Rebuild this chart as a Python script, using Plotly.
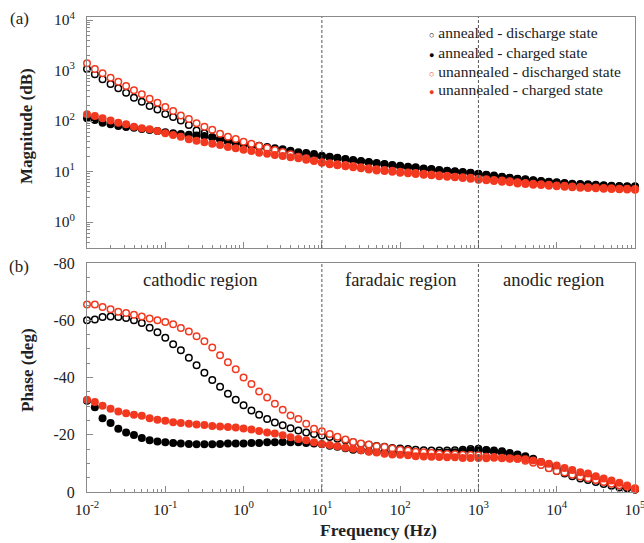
import plotly.graph_objects as go

# ---------------- data ----------------
freq = [0.01, 0.0126, 0.0158, 0.02, 0.0251, 0.0316, 0.0398, 0.0501, 0.0631, 0.0794,
        0.1, 0.126, 0.158, 0.2, 0.251, 0.316, 0.398, 0.501, 0.631, 0.794,
        1, 1.26, 1.58, 2, 2.51, 3.16, 3.98, 5.01, 6.31, 7.94,
        10, 12.6, 15.8, 20, 25.1, 31.6, 39.8, 50.1, 63.1, 79.4,
        100, 126, 158, 200, 251, 316, 398, 501, 631, 794,
        1000, 1260, 1580, 2000, 2510, 3160, 3980, 5010, 6310, 7940,
        10000, 12600, 15800, 20000, 25100, 31600, 39800, 50100, 63100, 79400,
        100000]

series_names = ["annealed - discharge state", "annealed - charged state",
                "unannealed - discharged state", "unannealed - charged state"]

mag_ann_dis = [1072, 840, 668, 541, 444, 364, 290, 242, 198, 170,
               138, 120, 102, 83, 65, 57, 47.5, 43.4, 39, 36.1,
               34.5, 32.5, 30.6, 28.8, 27.1, 25.5, 24.0, 22.5, 21.2, 20.0,
               19.8, 19.0, 18.2, 17.2, 16.4, 15.7, 15.0, 14.3, 13.7, 13.1,
               12.6, 12.1, 11.7, 11.2, 10.9, 10.5, 10.2, 9.9, 9.6, 9.3,
               8.9, 8.5, 8.1, 7.8, 7.4, 7.1, 6.9, 6.6, 6.4, 6.2,
               6.0, 5.8, 5.6, 5.5, 5.4, 5.3, 5.2, 5.1, 5.05, 5.0,
               4.95]
mag_ann_chg = [113, 105, 92.7, 86, 79.6, 76, 73.8, 69.5, 66.4, 63.4,
               59.7, 57, 55.3, 53.5, 51.8, 50.4, 47.5, 44, 40.2, 37.8,
               35.6, 33.5, 32.5, 30.6, 28.8, 27.5, 25.9, 24, 23.2, 22.2,
               20.6, 19.7, 18.8, 17.7, 16.9, 16.1, 15.4, 14.7, 14.1, 13.5,
               13.0, 12.4, 12.1, 11.5, 11.2, 10.7, 10.4, 10.1, 9.8, 9.5,
               9.0, 8.6, 8.3, 7.9, 7.5, 7.2, 7.0, 6.7, 6.5, 6.3,
               6.1, 5.9, 5.7, 5.65, 5.57, 5.48, 5.33, 5.25, 5.17, 5.13,
               5.09]
mag_unann_dis = [1387, 1072, 879, 721, 601, 493, 405, 337, 277, 231,
                 189, 158, 129, 110, 90, 77, 67, 56, 49, 44,
                 39, 35.6, 32, 29.2, 26.7, 24.3, 21.9, 19.7, 18.2, 16.6,
                 15.2, 14.6, 14.0, 13.4, 12.8, 12.2, 11.6, 11.1, 10.7, 10.3,
                 9.9, 9.6, 9.3, 9.0, 8.7, 8.4, 8.2, 7.9, 7.7, 7.5,
                 7.2, 7.0, 6.8, 6.6, 6.4, 6.1, 5.9, 5.75, 5.6, 5.45,
                 5.3, 5.2, 5.05, 4.95, 4.88, 4.8, 4.72, 4.65, 4.58, 4.55,
                 4.5]
mag_unann_chg = [136, 126, 113, 102, 92.7, 86, 77.3, 71.6, 68.4, 63.4,
                 57, 52.8, 49, 43.4, 40.8, 37.8, 35.6, 33.5, 30.6, 28.8,
                 27.1, 25.5, 23.6, 22.5, 21.2, 20.3, 19.1, 18.2, 17.1, 16.1,
                 14.9, 13.9, 13.3, 12.7, 12.1, 11.6, 11.0, 10.5, 10.2, 9.9,
                 9.5, 9.2, 8.9, 8.6, 8.4, 8.1, 7.9, 7.7, 7.4, 7.2,
                 6.9, 6.7, 6.5, 6.3, 6.1, 5.8, 5.65, 5.48, 5.4, 5.25,
                 5.09, 5.0, 4.86, 4.79, 4.71, 4.64, 4.57, 4.5, 4.43, 4.40,
                 4.36]

ph_ann_dis = [-60, -60.3, -61.1, -61.3, -61.1, -60.8, -60, -59, -57.4, -55.8,
              -53.9, -51.6, -49.5, -46.9, -44.3, -41.7, -39.1, -36.8, -34.3, -32.2,
              -30.3, -28.5, -27, -25.5, -24.3, -23.3, -22.3, -21.5, -20.8, -20.3,
              -19.7, -19.2, -18.6, -18.1, -17.4, -16.8, -16.5, -16.1, -15.8, -15.4,
              -15.2, -15.0, -14.8, -14.6, -14.5, -14.5, -14.5, -14.6, -14.8, -15.0,
              -15.1, -14.6, -14.1, -13.7, -13.1, -12.5, -11.8, -10.7, -9.6, -8.4,
              -7.3, -6.5, -5.5, -4.7, -4.2, -3.5, -2.8, -2.2, -1.6, -1.3,
              -0.9]
ph_ann_chg = [-31.9, -29.6, -25.8, -24.1, -22.1, -20.8, -19.9, -18.9, -18.1, -17.6,
              -17.4, -17.1, -16.9, -16.8, -16.7, -16.7, -16.7, -16.8, -16.9, -16.9,
              -16.9, -17.1, -17.1, -17.4, -17.4, -17.5, -17.4, -17.4, -17.1, -16.9,
              -16.7, -16.2, -15.8, -15.3, -14.8, -14.6, -14.2, -14.0, -13.9, -13.7,
              -13.5, -13.4, -13.4, -13.4, -13.5, -13.7, -13.8, -13.9, -14.3, -14.5,
              -14.6, -14.7, -14.5, -14.2, -13.6, -13.1, -12.5, -11.6, -10.5, -9.4,
              -8.2, -7.5, -6.7, -5.8, -5.2, -4.4, -3.7, -3.1, -2.3, -1.5,
              -0.9]
ph_unann_dis = [-65.5, -65.5, -64.6, -63.8, -63, -62.5, -61.9, -61.3, -60.6, -60,
                -59.4, -58.6, -57.3, -56.1, -54.4, -52.7, -50.5, -47.8, -45.3, -42.9,
                -40, -37.7, -35.1, -33, -30.8, -28.7, -26.7, -25.5, -23.8, -22.1,
                -21.2, -20.3, -19.3, -18.3, -17.5, -16.9, -16.6, -16.0, -15.7, -15.2,
                -14.8, -14.5, -14.1, -13.9, -13.7, -13.4, -13.3, -13.2, -13.0, -12.9,
                -12.8, -12.3, -12.2, -12.0, -11.8, -11.6, -10.9, -10.2, -9.4, -8.3,
                -7.3, -6.8, -6.0, -5.4, -4.8, -4.2, -3.5, -2.9, -2.4, -1.8,
                -1.3]
ph_unann_chg = [-32.2, -31.4, -30.1, -29.1, -28.1, -27.5, -27, -26.6, -25.8, -25.2,
                -24.9, -24.4, -24.1, -23.8, -23.6, -23.4, -23.1, -22.9, -22.7, -22.5,
                -22.2, -21.8, -21.3, -20.8, -20.4, -19.8, -19.1, -18.5, -18.1, -17.4,
                -16.8, -16.4, -16.0, -15.5, -15.1, -14.6, -14.1, -13.8, -13.4, -13.1,
                -13.0, -12.8, -12.5, -12.4, -12.3, -12.2, -12.1, -12.1, -11.9, -11.9,
                -11.9, -11.8, -12.0, -11.8, -11.6, -11.6, -11.4, -11.0, -10.5, -9.9,
                -9.3, -8.4, -7.7, -6.9, -6.5, -5.5, -4.7, -4.0, -3.2, -2.3,
                -0.9]

x_tick_vals = [0.01, 0.1, 1, 10, 100, 1000, 10000, 100000]
x_tick_text = ["10<sup>-2</sup>", "10<sup>-1</sup>", "10<sup>0</sup>", "10<sup>1</sup>",
               "10<sup>2</sup>", "10<sup>3</sup>", "10<sup>4</sup>", "10<sup>5</sup>"]
mag_tick_vals = [1, 10, 100, 1000, 10000]
mag_tick_text = ["10<sup>0</sup>", "10<sup>1</sup>", "10<sup>2</sup>", "10<sup>3</sup>", "10<sup>4</sup>"]
ph_tick_vals = [-80, -60, -40, -20, 0]
ph_tick_text = ["-80", "-60", "-40", "-20", "0"]
region_boundaries = [10, 1000]
region_labels = ["cathodic region", "faradaic region", "anodic region"]
region_label_px = [200, 400, 553]   # label centres, pixels

# ---------------- styling ----------------
W, H = 644, 543
ML, MR, MT, MB = 87, 9, 17, 51
PW, PH = W - ML - MR, H - MT - MB
FONT = "Liberation Serif"
BLACK = "#000000"
RED = "#F2391F"
AX = "#8a8a8a"
TXT = "#222222"


def px(xp):
    return (xp - ML) / PW


def py(yp):
    return (H - MB - yp) / PH


fig = go.Figure()

styles = [
    dict(color="white", line=dict(color=BLACK, width=1.5), size=6.5),
    dict(color=BLACK, line=dict(color=BLACK, width=0), size=8),
    dict(color="white", line=dict(color=RED, width=1.5), size=6.5),
    dict(color=RED, line=dict(color=RED, width=0), size=8),
]
mags = [mag_ann_dis, mag_ann_chg, mag_unann_dis, mag_unann_chg]
phs = [ph_ann_dis, ph_ann_chg, ph_unann_dis, ph_unann_chg]

for name, st, m in zip(series_names, styles, mags):
    fig.add_trace(go.Scatter(x=freq, y=m, mode="markers", name=name, marker=dict(symbol="circle", **st),
                             xaxis="x", yaxis="y", showlegend=False, cliponaxis=False))
for name, st, p in zip(series_names, styles, phs):
    fig.add_trace(go.Scatter(x=freq, y=p, mode="markers", name=name, marker=dict(symbol="circle", **st),
                             xaxis="x2", yaxis="y2", showlegend=False, cliponaxis=False))

top_dom = [py(248), 1.0]
bot_dom = [0.0, py(263)]

common_x = dict(type="log", range=[-2, 5], showline=True, linecolor=AX, linewidth=1, mirror=True,
                showgrid=False, zeroline=False, ticks="inside", ticklen=6, tickcolor=AX,
                tickmode="array", tickvals=x_tick_vals, ticktext=x_tick_text,
                ticklabeloverflow="allow", automargin=False,
                minor=dict(ticks="inside", ticklen=3, tickcolor=AX, dtick="D1", showgrid=False),
                tickfont=dict(family=FONT, size=15.5, color=TXT))

fig.update_layout(
    width=W, height=H, margin=dict(l=ML, r=MR, t=MT, b=MB, autoexpand=False),
    paper_bgcolor="white", plot_bgcolor="white", showlegend=False,
    font=dict(family=FONT, color=TXT),
    xaxis=dict(common_x, anchor="y", domain=[0, 1], showticklabels=False),
    yaxis=dict(type="log", range=[-0.515, 4.06], domain=top_dom, anchor="x",
               showline=True, linecolor=AX, linewidth=1, mirror=True, showgrid=False, zeroline=False,
               ticks="inside", ticklen=6, tickcolor=AX, tickmode="array",
               tickvals=mag_tick_vals, ticktext=mag_tick_text, ticklabelstandoff=8,
               ticklabeloverflow="allow", automargin=False,
               minor=dict(ticks="inside", ticklen=3, tickcolor=AX, dtick="D1", showgrid=False),
               tickfont=dict(family=FONT, size=15.5, color=TXT)),
    xaxis2=dict(common_x, anchor="y2", domain=[0, 1], showticklabels=True, ticklabelstandoff=3),
    yaxis2=dict(range=[0, -80], domain=bot_dom, anchor="x2",
                showline=True, linecolor=AX, linewidth=1, mirror=True, showgrid=False, zeroline=False,
                ticks="inside", ticklen=6, tickcolor=AX, tickmode="array",
                tickvals=ph_tick_vals, ticktext=ph_tick_text, ticklabelstandoff=8,
                ticklabeloverflow="allow", automargin=False,
                minor=dict(ticks="inside", ticklen=3, tickcolor=AX, dtick=5, showgrid=False),
                tickfont=dict(family=FONT, size=16, color=TXT)),
)

# dashed region boundaries
for xr, yr in (("x", "y domain"), ("x2", "y2 domain")):
    for b in region_boundaries:
        fig.add_shape(type="line", xref=xr, yref=yr, x0=b, x1=b, y0=0, y1=1,
                      line=dict(color="#555555", width=1, dash="3px,2px"), layer="above")

ann = []
for lab, c in zip(region_labels, region_label_px):
    ann.append(dict(x=px(c), y=py(280), xref="paper", yref="paper", text=lab, showarrow=False,
                    xanchor="center", yanchor="middle", font=dict(family=FONT, size=18.5, color=TXT)))

ann.append(dict(x=px(19), y=py(19), xref="paper", yref="paper", text="(a)", showarrow=False,
                xanchor="center", yanchor="middle", font=dict(family=FONT, size=17, color=TXT)))
ann.append(dict(x=px(19), y=py(266), xref="paper", yref="paper", text="(b)", showarrow=False,
                xanchor="center", yanchor="middle", font=dict(family=FONT, size=17, color=TXT)))
ann.append(dict(x=px(27), y=py(126), xref="paper", yref="paper", text="<b>Magnitude (dB)</b>",
                showarrow=False, textangle=-90, xanchor="center", yanchor="middle",
                font=dict(family=FONT, size=17, color=TXT)))
ann.append(dict(x=px(27), y=py(370), xref="paper", yref="paper", text="<b>Phase (deg)</b>",
                showarrow=False, textangle=-90, xanchor="center", yanchor="middle",
                font=dict(family=FONT, size=17, color=TXT)))
ann.append(dict(x=px(378), y=py(530), xref="paper", yref="paper", text="<b>Frequency (Hz)</b>",
                showarrow=False, xanchor="center", yanchor="middle",
                font=dict(family=FONT, size=17.5, color=TXT)))

# legend rows
leg_syms = ["○", "●", "○", "●"]
leg_cols = [BLACK, BLACK, RED, RED]
leg_y = [33, 52, 71, 90]
for name, s, c, yy in zip(series_names, leg_syms, leg_cols, leg_y):
    ann.append(dict(x=px(427), y=py(yy), xref="paper", yref="paper",
                    text=f"<span style='color:{c};font-size:9px;font-weight:bold'>{s}</span> {name}",
                    showarrow=False, xanchor="left", yanchor="middle",
                    font=dict(family=FONT, size=15.5, color=TXT)))

fig.update_layout(annotations=ann)
fig.write_html("out.html", config={"displayModeBar": False},
               post_script="document.body.style.margin='0';document.body.style.padding='0';"
                           "document.documentElement.style.overflow='hidden';")
